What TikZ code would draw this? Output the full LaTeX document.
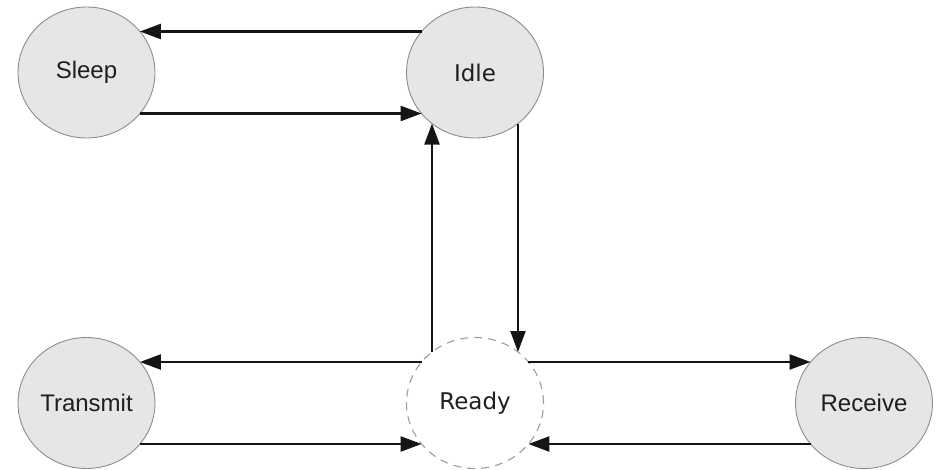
\documentclass[tikz,border=0pt]{standalone}
\usepackage{fontspec}
\usetikzlibrary{shapes.geometric,arrows.meta}
\newfontfamily\armfont{Liberation Sans}
\newfontfamily\djvfont{DejaVu Sans}
\definecolor{statefill}{HTML}{E6E6E6}
\definecolor{stateline}{HTML}{8C8C8C}
\definecolor{wire}{HTML}{151515}
\definecolor{labelink}{HTML}{1E1E1E}
\tikzset{
  state/.style={ellipse, minimum width=137pt, minimum height=131pt, inner sep=0pt,
    outer sep=0pt, fill=statefill, draw=stateline, line width=0.9pt, text=labelink,
    font=\armfont\fontsize{24pt}{28pt}\selectfont},
  dvstate/.style={state, font=\djvfont\fontsize{23pt}{28pt}\selectfont},
  hub/.style={dvstate, fill=white, draw=stateline!85, dash pattern=on 8pt off 6pt,
    line width=1.1pt},
  wirearrow/.style={draw=wire, line width=2.2pt,
    -{Triangle[length=21pt,width=15pt]}}
}
\begin{document}
\begin{tikzpicture}[x=1pt,y=-1pt]
  \useasboundingbox (0,0) rectangle (937,469);
  % states
  \node[state] (sleep) at (86.5,72.5) {Sleep};
  \node[dvstate] (idle) at (475,72.5) {Idle};
  \node[state] (transmit) at (86.5,403) {Transmit};
  \node[hub] (ready) at (475,403) {Ready};
  \node[state] (receive) at (864,403) {Receive};
  % horizontal transitions: border points 41pt above/below the centres
  \draw[wirearrow] ([shift={(-53.4,-41)}]idle.center) -- ([shift={(53.4,-41)}]sleep.center);
  \draw[wirearrow] ([shift={(53.4,41)}]sleep.center) -- ([shift={(-53.4,41)}]idle.center);
  \draw[wirearrow] ([shift={(-53.4,-41)}]ready.center) -- ([shift={(53.4,-41)}]transmit.center);
  \draw[wirearrow] ([shift={(53.4,41)}]transmit.center) -- ([shift={(-53.4,41)}]ready.center);
  \draw[wirearrow] ([shift={(53.4,-41)}]ready.center) -- ([shift={(-53.4,-41)}]receive.center);
  \draw[wirearrow] ([shift={(-53.4,41)}]receive.center) -- ([shift={(53.4,41)}]ready.center);
  % vertical transitions: border points 43pt left/right of the centres
  \draw[wirearrow] ([shift={(-43,-51)}]ready.center) -- ([shift={(-43,51)}]idle.center);
  \draw[wirearrow] ([shift={(43,51)}]idle.center) -- ([shift={(43,-51)}]ready.center);
\end{tikzpicture}
\end{document}
